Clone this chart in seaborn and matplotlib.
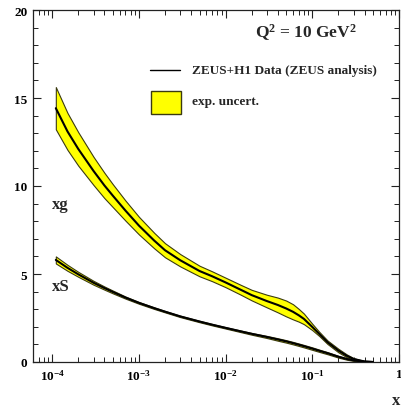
import numpy as np
import pandas as pd
import matplotlib
matplotlib.use("Agg")
import matplotlib.pyplot as plt
import seaborn as sns
from matplotlib.patches import Rectangle
from matplotlib.lines import Line2D
from matplotlib.ticker import FixedLocator, FixedFormatter, LogLocator, MultipleLocator, NullFormatter

# Parton momentum distributions at Q^2 = 10 GeV^2
x_vals = [1.1e-4, 1.5e-4, 2e-4, 3e-4, 4e-4, 5e-4, 7e-4, 1e-3, 1.5e-3, 2e-3,
          3e-3, 5e-3, 7e-3, 1e-2, 1.5e-2, 2e-2, 3e-2, 4e-2, 5e-2, 6e-2,
          7e-2, 8e-2, 0.1, 0.12, 0.15, 0.2, 0.25, 0.3, 0.4, 0.5]

# gluon: central fit and experimental uncertainty (half width of band)
xg_c = [14.42, 13.10, 12.10, 10.85, 10.03, 9.45, 8.60, 7.75, 6.90, 6.35,
        5.78, 5.17, 4.87, 4.52, 4.10, 3.80, 3.46, 3.24, 3.04, 2.85,
        2.65, 2.45, 1.99, 1.60, 1.12, 0.65, 0.35, 0.17, 0.03, 0.00]
xg_err = [1.20, 1.05, 0.95, 0.80, 0.72, 0.65, 0.57, 0.50, 0.44, 0.40,
          0.35, 0.30, 0.28, 0.27, 0.28, 0.30, 0.36, 0.42, 0.45, 0.43,
          0.36, 0.30, 0.18, 0.12, 0.10, 0.10, 0.08, 0.05, 0.02, 0.01]

# sea quarks: central fit and experimental uncertainty (half width of band)
xs_c = [5.80, 5.35, 4.98, 4.50, 4.20, 3.98, 3.66, 3.36, 3.06, 2.86,
        2.59, 2.30, 2.12, 1.94, 1.74, 1.60, 1.42, 1.28, 1.17, 1.07,
        0.98, 0.90, 0.76, 0.64, 0.50, 0.30, 0.17, 0.09, 0.02, 0.00]
xs_err = [0.20, 0.17, 0.14, 0.11, 0.09, 0.08, 0.06, 0.05, 0.045, 0.04,
          0.04, 0.04, 0.04, 0.04, 0.045, 0.05, 0.06, 0.07, 0.07, 0.07,
          0.07, 0.07, 0.07, 0.065, 0.06, 0.05, 0.04, 0.03, 0.01, 0.00]

x_ticks = [1e-4, 1e-3, 1e-2, 1e-1, 1.0]
x_ticklabels = [r"$\mathregular{10^{-4}}$", r"$\mathregular{10^{-3}}$",
                r"$\mathregular{10^{-2}}$", r"$\mathregular{10^{-1}}$", "1"]
y_ticks = [0, 5, 10, 15, 20]

sns.set_style("ticks")
plt.rcParams.update({
    "font.family": ["Liberation Serif", "DejaVu Serif"],
    "font.weight": "bold",
    "mathtext.fontset": "custom",
    "mathtext.rm": "Liberation Serif:bold",
    "mathtext.it": "Liberation Serif:bold:italic",
    "mathtext.bf": "Liberation Serif:bold",
    "axes.linewidth": 0.9,
    "axes.edgecolor": "#222222",
})

df = pd.concat([
    pd.DataFrame({"x": x_vals, "y": xg_c, "pdf": "xg"}),
    pd.DataFrame({"x": x_vals, "y": xs_c, "pdf": "xS"}),
])

fig = plt.figure(figsize=(4.02, 4.10), dpi=100)
ax = fig.add_axes([33 / 402, 47 / 410, 366 / 402, 352 / 410])

band_face = "#ffff00"
band_edge = "#3a3a10"
for c, e in ((xg_c, xg_err), (xs_c, xs_err)):
    c = np.asarray(c)
    e = np.asarray(e)
    ax.fill_between(x_vals, c - e, c + e, facecolor=band_face, edgecolor=band_edge,
                    linewidth=0.8, zorder=1)

sns.lineplot(data=df, x="x", y="y", hue="pdf", palette={"xg": "black", "xS": "black"},
             estimator=None, sort=False, legend=False, linewidth=1.5, ax=ax, zorder=3)

ax.set_xscale("log")
ax.set_xlim(6e-5, 1.0)
ax.set_ylim(0, 20)
ax.set_xlabel("")
ax.set_ylabel("")

ax.xaxis.set_major_locator(FixedLocator(x_ticks))
ax.xaxis.set_major_formatter(FixedFormatter(x_ticklabels))
ax.xaxis.set_minor_locator(LogLocator(base=10, subs=np.arange(2, 10), numticks=20))
ax.xaxis.set_minor_formatter(NullFormatter())
ax.yaxis.set_major_locator(FixedLocator(y_ticks))
ax.yaxis.set_minor_locator(MultipleLocator(1))

ax.tick_params(which="both", direction="in", top=True, right=True, colors="#222222",
               labelcolor="black")
ax.tick_params(which="major", length=6, width=0.8, labelsize=9.5, pad=4)
ax.tick_params(which="minor", length=3.5, width=0.7)
for side in ax.spines.values():
    side.set_visible(True)

# curve labels
ax.text(0.051, 0.449, "xg", transform=ax.transAxes, fontsize=12, fontweight="bold",
        ha="left", va="center")
ax.text(0.051, 0.216, "xS", transform=ax.transAxes, fontsize=12, fontweight="bold",
        ha="left", va="center")

# scale annotation
ax.text(0.745, 0.9375, r"Q$^{\mathregular{2}}$ = 10 GeV$^{\mathregular{2}}$",
        transform=ax.transAxes, fontsize=12.5, fontweight="bold", ha="center", va="center")

# key
ax.add_line(Line2D([0.320, 0.402], [0.830, 0.830], transform=ax.transAxes,
                   color="black", linewidth=1.0))
ax.text(0.435, 0.830, "ZEUS+H1 Data (ZEUS analysis)", transform=ax.transAxes,
        fontsize=9.5, fontweight="bold", ha="left", va="center")
ax.add_patch(Rectangle((0.322, 0.705), 0.082, 0.065, transform=ax.transAxes,
                       facecolor=band_face, edgecolor=band_edge, linewidth=1.0))
ax.text(0.435, 0.741, "exp. uncert.", transform=ax.transAxes,
        fontsize=9.5, fontweight="bold", ha="left", va="center")

fig.text(396 / 402, 9 / 410, "x", fontsize=12, fontweight="bold", ha="center", va="center")

fig.savefig("out.png", dpi=100)
